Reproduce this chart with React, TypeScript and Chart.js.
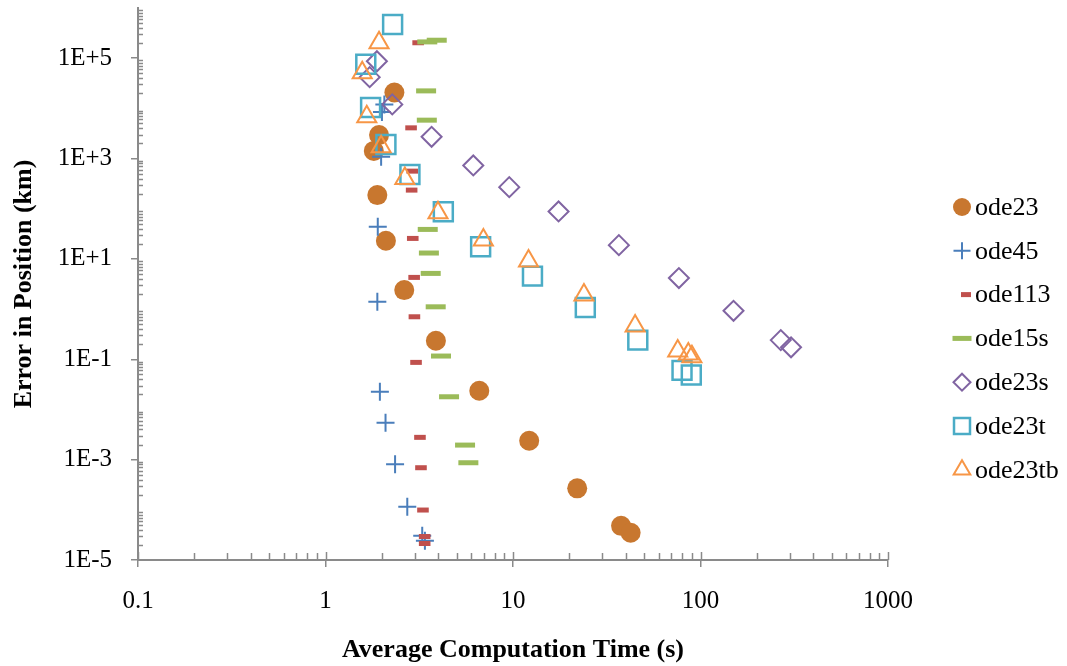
import React, { useEffect, useRef } from 'react';
import { Chart, registerables } from 'chart.js';

Chart.register(...registerables);

// ---------- data ----------
const seriesNames = ['ode23', 'ode45', 'ode113', 'ode15s', 'ode23s', 'ode23t', 'ode23tb'];

const ode23Time = [2.33, 1.93, 1.81, 1.89, 2.10, 2.63, 3.88, 6.61, 12.2, 22.0, 37.7, 42.4];
const ode23Error = [2.07e4, 2.93e3, 1.42e3, 187, 23, 2.39, 0.234, 0.0236, 0.00238, 2.68e-4, 4.8e-5, 3.5e-5];

const ode45Time = [2.06, 2.0, 1.98, 1.90, 1.89, 1.95, 2.09, 2.35, 2.73, 3.28, 3.39];
const ode45Error = [1.2e4, 8.5e3, 1.08e3, 43.5, 1.40, 0.0225, 0.00543, 8.05e-4, 1.15e-4, 3.05e-5, 2.42e-5];

const ode113Time = [3.12, 2.86, 2.90, 2.88, 2.92, 2.97, 2.98, 3.04, 3.19, 3.23, 3.31, 3.38, 3.38];
const ode113Error = [2.03e5, 4.09e3, 561, 235, 25.6, 4.28, 0.703, 0.0867, 0.00278, 6.9e-4, 9.9e-5, 2.94e-5, 2.13e-5];

const ode15sTime = [3.49, 3.92, 3.44, 3.47, 3.51, 3.56, 3.64, 3.87, 4.13, 4.56, 5.55, 5.78];
const ode15sError = [2.11e5, 2.28e5, 2.23e4, 5.82e3, 38.7, 13.1, 5.14, 1.11, 0.116, 0.0179, 0.00195, 8.67e-4];

const ode23sTime = [1.88, 1.72, 2.27, 3.68, 6.14, 9.55, 17.5, 36.7, 76.7, 150, 268, 304];
const ode23sError = [8.7e4, 4.19e4, 1.2e4, 2.71e3, 729, 269, 88.3, 18.8, 4.15, 0.925, 0.241, 0.173];

const ode23tTime = [2.28, 1.64, 1.74, 2.10, 2.82, 4.25, 6.72, 12.7, 24.3, 46.3, 79.7, 89.3];
const ode23tError = [4.69e5, 7.6e4, 1.04e4, 1.91e3, 482, 86.7, 17.4, 4.54, 1.08, 0.241, 0.0601, 0.0484];

const ode23tbTime = [1.93, 1.57, 1.66, 1.98, 2.65, 3.98, 6.95, 12.1, 23.9, 44.8, 75.6, 86.1, 90.0];
const ode23tbError = [2.02e5, 5.1e4, 6.77e3, 1.71e3, 402, 83.6, 23.7, 9.04, 1.90, 0.458, 0.146, 0.127, 0.112];

const xTickValues = [0.1, 1, 10, 100, 1000];
const xTickLabels = ['0.1', '1', '10', '100', '1000'];
const yTickValues = [1e-5, 1e-3, 1e-1, 1e1, 1e3, 1e5];
const yTickLabels = ['1E-5', '1E-3', '1E-1', '1E+1', '1E+3', '1E+5'];

const xTitle = 'Average Computation Time (s)';
const yTitle = 'Error in Position (km)';

// ---------- styles ----------
const FONT = '"Liberation Serif", "Times New Roman", serif';
const AXIS = '#8A8A8A';

type Style = { pointStyle: string; radius: number; color: string; fill: boolean; width: number; lr: number; lx: number };
const seriesStyles: Style[] = [
  { pointStyle: 'circle', radius: 10, color: '#C8772F', fill: true, width: 0, lr: 9, lx: 962 },
  { pointStyle: 'cross', radius: 9, color: '#4A7EBB', fill: false, width: 2, lr: 8.5, lx: 962 },
  { pointStyle: 'line', radius: 5.8, color: '#C0504D', fill: false, width: 5, lr: 5, lx: 966 },
  { pointStyle: 'line', radius: 10, color: '#9BBB59', fill: false, width: 5, lr: 9.5, lx: 962 },
  { pointStyle: 'rectRot', radius: 10, color: '#8064A2', fill: false, width: 2, lr: 8.5, lx: 962 },
  { pointStyle: 'rect', radius: 13.4, color: '#4BACC6', fill: false, width: 2.5, lr: 11.3, lx: 962 },
  { pointStyle: 'triangle', radius: 11, color: '#F79646', fill: false, width: 2, lr: 9.6, lx: 962 },
];

const seriesData = [
  [ode23Time, ode23Error],
  [ode45Time, ode45Error],
  [ode113Time, ode113Error],
  [ode15sTime, ode15sError],
  [ode23sTime, ode23sError],
  [ode23tTime, ode23tError],
  [ode23tbTime, ode23tbError],
];

function drawMarker(ctx: CanvasRenderingContext2D, st: Style, x: number, y: number, r: number) {
  ctx.save();
  ctx.strokeStyle = st.color;
  ctx.fillStyle = st.color;
  ctx.lineWidth = st.width;
  ctx.beginPath();
  switch (st.pointStyle) {
    case 'circle':
      ctx.arc(x, y, r, 0, Math.PI * 2);
      ctx.fill();
      break;
    case 'cross':
      ctx.moveTo(x - r, y); ctx.lineTo(x + r, y);
      ctx.moveTo(x, y - r); ctx.lineTo(x, y + r);
      ctx.stroke();
      break;
    case 'line':
      ctx.moveTo(x - r, y); ctx.lineTo(x + r, y);
      ctx.stroke();
      break;
    case 'rectRot':
      ctx.moveTo(x - r, y); ctx.lineTo(x, y - r); ctx.lineTo(x + r, y); ctx.lineTo(x, y + r);
      ctx.closePath(); ctx.stroke();
      break;
    case 'rect': {
      const s = r * Math.SQRT1_2;
      ctx.rect(x - s, y - s, 2 * s, 2 * s); ctx.stroke();
      break;
    }
    case 'triangle':
      ctx.moveTo(x, y - r);
      ctx.lineTo(x + r * 0.866, y + r * 0.5);
      ctx.lineTo(x - r * 0.866, y + r * 0.5);
      ctx.closePath(); ctx.stroke();
      break;
  }
  ctx.restore();
}

const axisDecor = {
  id: 'axisDecor',
  beforeDatasetsDraw(chart: any) {
    const ctx: CanvasRenderingContext2D = chart.ctx;
    const xs = chart.scales.x;
    const ys = chart.scales.y;
    const { left, bottom } = chart.chartArea;
    ctx.save();
    ctx.strokeStyle = AXIS;
    ctx.lineWidth = 1.5;
    ctx.beginPath();
    // x minor ticks (inside) and inside part of the major ticks
    for (let k = -1; k <= 2; k++) {
      for (let m = 2; m <= 9; m++) {
        const px = Math.round(xs.getPixelForValue(m * Math.pow(10, k))) + 0.5;
        ctx.moveTo(px, bottom); ctx.lineTo(px, bottom - 7);
      }
    }
    xTickValues.forEach((v) => {
      const px = Math.round(xs.getPixelForValue(v)) + 0.5;
      ctx.moveTo(px, bottom); ctx.lineTo(px, bottom - 8);
    });
    // y minor ticks (inside)
    for (let k = -5; k <= 5; k++) {
      for (let m = 2; m <= 9; m++) {
        const v = m * Math.pow(10, k);
        if (v >= 1e6) continue;
        const py = Math.round(ys.getPixelForValue(v)) + 0.5;
        ctx.moveTo(left, py); ctx.lineTo(left + 5, py);
      }
    }
    ctx.stroke();
    ctx.restore();
  },
};

const sideLegend = {
  id: 'sideLegend',
  afterDraw(chart: any) {
    const ctx: CanvasRenderingContext2D = chart.ctx;
    ctx.save();
    chart.data.datasets.forEach((ds: any, i: number) => {
      const y = 207 + i * 43.8;
      const st = seriesStyles[i];
      drawMarker(ctx, st, st.lx, y, st.lr);
      ctx.fillStyle = '#000';
      ctx.font = `26px ${FONT}`;
      ctx.textBaseline = 'middle';
      ctx.textAlign = 'left';
      ctx.fillText(ds.label, 975, y + 1);
    });
    ctx.restore();
  },
};

export default function App() {
  const ref = useRef<HTMLCanvasElement>(null);
  useEffect(() => {
    if (!ref.current) return;
    const n = seriesNames.length;
    const datasets = seriesNames.map((name, i) => {
      const st = seriesStyles[i];
      const [xs, ys] = seriesData[i];
      return {
        label: name,
        data: xs.map((x, j) => ({ x, y: ys[j] })),
        showLine: false,
        clip: false,
        order: n - i,
        pointStyle: st.pointStyle,
        pointRadius: st.radius,
        pointHoverRadius: st.radius,
        pointBorderWidth: st.width,
        pointBorderColor: st.color,
        pointBackgroundColor: st.fill ? st.color : 'rgba(0,0,0,0)',
        borderColor: st.color,
        backgroundColor: st.fill ? st.color : 'rgba(0,0,0,0)',
      };
    });
    const chart = new Chart(ref.current, {
      type: 'scatter',
      data: { datasets } as any,
      options: {
        animation: false,
        responsive: false,
        events: [],
        layout: { autoPadding: false, padding: { left: 0, top: 8, right: 179, bottom: 0 } },
        plugins: { legend: { display: false }, tooltip: { enabled: false } },
        scales: {
          x: {
            type: 'logarithmic',
            position: 'bottom',
            min: 0.1,
            max: 1000,
            afterBuildTicks: (s: any) => { s.ticks = xTickValues.map((v) => ({ value: v })); },
            afterFit: (s: any) => { s.height = 106; s.paddingLeft = 0; s.paddingRight = 0; },
            ticks: {
              callback: (_v: any, i: number) => xTickLabels[i],
              font: { family: FONT, size: 25 },
              color: '#000',
              padding: 19,
              maxRotation: 0,
              autoSkip: false,
            },
            grid: { display: true, drawOnChartArea: false, drawTicks: true, tickLength: 7, color: AXIS, lineWidth: 1.5 },
            border: { display: true, color: AXIS, width: 2 },
            title: { display: true, text: xTitle, font: { family: FONT, size: 26, weight: 'bold' }, color: '#000', padding: { top: 0, bottom: 0 } },
          },
          y: {
            type: 'logarithmic',
            position: 'left',
            min: 1e-5,
            max: 1e6,
            afterBuildTicks: (s: any) => { s.ticks = yTickValues.map((v) => ({ value: v })); },
            afterFit: (s: any) => { s.width = 138; s.paddingTop = 0; s.paddingBottom = 0; },
            ticks: {
              callback: (_v: any, i: number) => yTickLabels[i],
              font: { family: FONT, size: 25, lineHeight: 0.6 },
              color: '#000',
              padding: 19,
              autoSkip: false,
            },
            grid: { display: true, drawOnChartArea: false, drawTicks: true, tickLength: 7, color: AXIS, lineWidth: 1.5 },
            border: { display: true, color: AXIS, width: 2 },
            title: { display: true, text: yTitle, font: { family: FONT, size: 26, weight: 'bold' }, color: '#000', padding: { top: 9, bottom: 0 } },
          },
        },
      } as any,
      plugins: [axisDecor, sideLegend],
    });
    return () => chart.destroy();
  }, []);
  return (
    <canvas
      ref={ref}
      width={1067}
      height={666}
      style={{ position: 'absolute', left: 0, top: 0, display: 'block', width: 1067, height: 666 }}
    />
  );
}
